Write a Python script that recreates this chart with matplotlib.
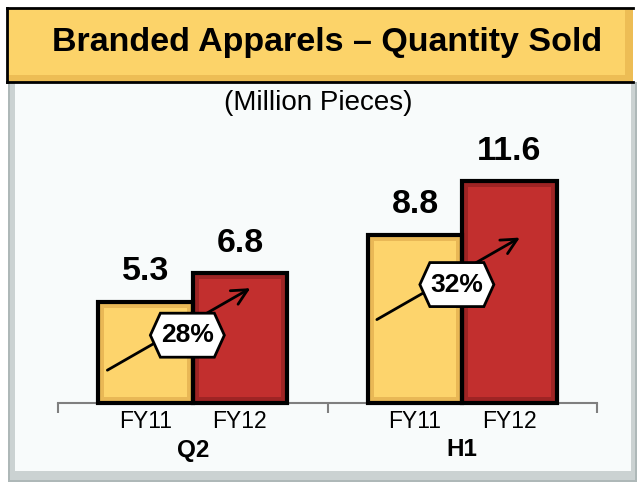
import matplotlib
matplotlib.use("Agg")
import matplotlib.pyplot as plt
from matplotlib.patches import Rectangle, Polygon
import numpy as np

# ---------------- data ----------------
groups = ["Q2", "H1"]
years = ["FY11", "FY12"]
fy11_values = [5.3, 8.8]
fy12_values = [6.8, 11.6]
growth_labels = ["28%", "32%"]
title = "Branded Apparels \u2013 Quantity Sold"
subtitle = "(Million Pieces)"

# ---------------- style ----------------
W, H = 637, 482
DPI = 100
FONT = ["Liberation Sans", "DejaVu Sans"]
plt.rcParams["font.family"] = FONT

c_fy11 = "#FDD46C"
c_fy11_bevel = "#E9B856"
c_fy12 = "#C22F2E"
c_fy12_bevel = "#9E2424"
c_banner = "#FCD369"
c_banner_bevel = "#EDBD55"

fig = plt.figure(figsize=(W / DPI, H / DPI), dpi=DPI)
fig.patch.set_facecolor("white")


def fr(x, y, w, h):
    """pixel box (top-left origin) -> figure fraction box"""
    return (x / W, 1 - (y + h) / H, w / W, h / H)


def frect(x, y, w, h, **kw):
    fx, fy, fw, fh = fr(x, y, w, h)
    r = Rectangle((fx, fy), fw, fh, transform=fig.transFigure, **kw)
    fig.add_artist(r)
    return r


# panel with bevel frame
frect(8, 82, 629, 400, facecolor="#AEB8B8", edgecolor="none", zorder=0)
frect(10, 82, 625, 398, facecolor="#CBD2D2", edgecolor="none", zorder=0)
frect(15, 82, 616, 389, facecolor="#F8FBFB", edgecolor="none", zorder=0)

# title banner
frect(7, 8, 626, 74, facecolor=c_banner_bevel, edgecolor="none", zorder=1)
frect(9, 9, 616, 66, facecolor=c_banner, edgecolor="none", zorder=1)
fx, fy, fw, fh = fr(7, 8, 626, 74)
for xs, ys in [([fx, fx + fw], [fy + fh, fy + fh]), ([fx, fx + fw], [fy, fy]),
               ([fx, fx], [fy, fy + fh])]:
    fig.add_artist(plt.Line2D(xs, ys, transform=fig.transFigure,
                              color="black", lw=2, zorder=2))
fig.text(327 / W, 1 - 43 / H, title, ha="center", va="center", fontsize=24.5,
         fontweight="bold", color="black", zorder=3)
fig.text(318 / W, 1 - 103 / H, subtitle, ha="center", va="center", fontsize=20,
         color="black", zorder=3)

# ---------------- axes ----------------
baseline_px = 403
unit_px = 19.1
ymax = 14.0
ax_left, ax_right = 58, 597
ax_h = ymax * unit_px
ax = fig.add_axes([ax_left / W, (H - baseline_px) / H, (ax_right - ax_left) / W, ax_h / H])
ax.set_facecolor("none")
ax.set_xlim(-0.5, len(groups) - 0.5)
ax.set_ylim(0, ymax)
for s in ["top", "right", "left"]:
    ax.spines[s].set_visible(False)
ax.spines["bottom"].set_color("#7F7F7F")
ax.spines["bottom"].set_linewidth(1.5)
ax.set_yticks([])
ax.set_xticks(np.arange(len(groups) + 1) - 0.5)
ax.set_xticklabels([])
ax.tick_params(axis="x", direction="out", length=7, width=1.5, color="#7F7F7F")

x = np.arange(len(groups))
bw = 0.35
inset_x = 6 / ((ax_right - ax_left) / len(groups))
inset_y = 6 / unit_px

for vals, offs, col, bev in [(fy11_values, -bw / 2, c_fy11, c_fy11_bevel),
                             (fy12_values, bw / 2, c_fy12, c_fy12_bevel)]:
    ax.bar(x + offs, vals, width=bw, color=bev, edgecolor="none", zorder=2)
    ax.bar(x + offs, np.array(vals) - 2 * inset_y, width=bw - 2 * inset_x,
           bottom=inset_y, color=col, edgecolor="none", zorder=3)
    ax.bar(x + offs, vals, width=bw, color="none", edgecolor="black", linewidth=3,
           zorder=4, clip_on=False)
    for xi, v in zip(x + offs, vals):
        ax.annotate(f"{v:.1f}", xy=(xi, v), xytext=(0, 30), textcoords="offset pixels",
                    ha="center", va="center", fontsize=24.5, fontweight="bold",
                    annotation_clip=False)

# category labels
for gi, g in enumerate(groups):
    for off, yl in zip([-bw / 2, bw / 2], years):
        ax.annotate(yl, xy=(gi + off, 0), xytext=(0, -18), textcoords="offset pixels",
                    ha="center", va="center", fontsize=16.5, annotation_clip=False)
    ax.annotate(g, xy=(gi, 0), xytext=(0, -47), textcoords="offset pixels",
                ha="center", va="center", fontsize=17.5, fontweight="bold",
                annotation_clip=False)

# growth arrows and hexagon badges
badge_y = [3.55, 6.2]
hex_w, hex_h, hex_tip = 74, 44, 10
inv = ax.transData.inverted()
for gi, (lab, by) in enumerate(zip(growth_labels, badge_y)):
    bx = gi - 0.02
    cx, cy = ax.transData.transform((bx, by))
    sx, sy = cx - 80, cy - 35
    ex, ey = cx + 63, cy + 47
    s_d = inv.transform((sx, sy))
    e_d = inv.transform((ex, ey))
    ax.annotate("", xy=e_d, xytext=s_d,
                arrowprops=dict(arrowstyle="->", lw=2, color="black",
                                mutation_scale=28, shrinkA=0, shrinkB=0),
                zorder=5, annotation_clip=False)
    hw, hh = hex_w / 2, hex_h / 2
    pts_px = [(cx - hw, cy), (cx - hw + hex_tip, cy + hh), (cx + hw - hex_tip, cy + hh),
              (cx + hw, cy), (cx + hw - hex_tip, cy - hh), (cx - hw + hex_tip, cy - hh)]
    pts = inv.transform(pts_px)
    ax.add_patch(Polygon(pts, closed=True, facecolor="white", edgecolor="black",
                         linewidth=2, zorder=6, clip_on=False))
    ax.text(bx, by, lab, ha="center", va="center", fontsize=19, fontweight="bold",
            zorder=7)

fig.savefig("out.png", dpi=DPI, facecolor=fig.get_facecolor())
